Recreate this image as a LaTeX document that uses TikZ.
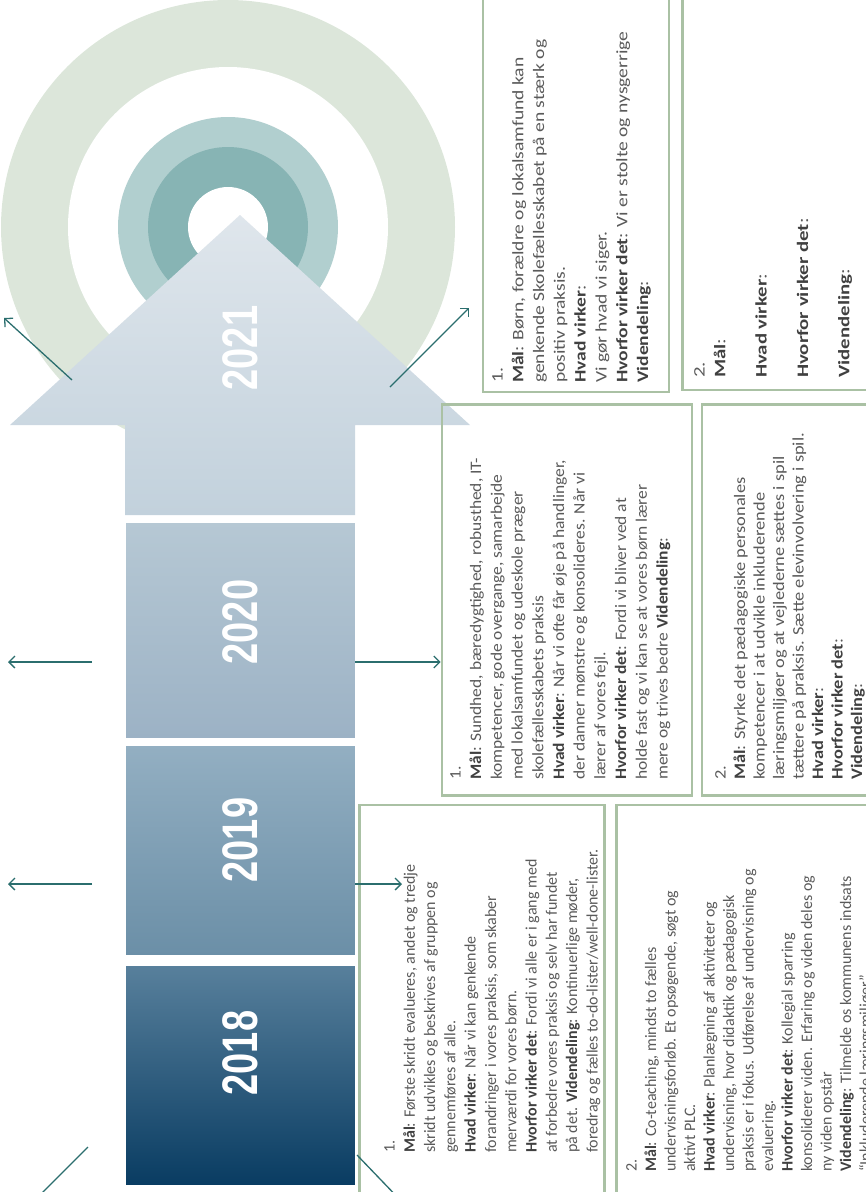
\documentclass[tikz,border=0pt]{standalone}
\usepackage{fontspec}
\setmainfont{Carlito}
\newfontfamily\yearfont{Liberation Sans}
\usetikzlibrary{positioning, arrows.meta, calc}

\definecolor{ringgreen}{HTML}{DCE6DA}
\definecolor{ringteal}{HTML}{B1CFCF}
\definecolor{ringdark}{HTML}{87B4B4}
\definecolor{linkteal}{HTML}{2B6E6E}
\definecolor{boxgreen}{HTML}{AAC1A4}
\definecolor{bodygray}{HTML}{5A5A5A}
\definecolor{labelgray}{HTML}{404040}
\definecolor{topA}{HTML}{DFE6EC}
\definecolor{botA}{HTML}{C2D1DC}
\definecolor{topB}{HTML}{B6C8D4}
\definecolor{botB}{HTML}{9CB2C5}
\definecolor{topC}{HTML}{93AFC2}
\definecolor{botC}{HTML}{6B8FA7}
\definecolor{topD}{HTML}{58809C}
\definecolor{botD}{HTML}{093C62}

\newcommand{\lbl}[1]{\textbf{\color{labelgray}#1}}

\begin{document}
\begin{tikzpicture}[
    % Global Styles
    x=1pt, y=-1pt,
    >={Straight Barb[length=6pt, width=12pt]},
    % Style for the year blocks
    year_block/.style={rectangle, draw=white, line width=0.8pt, minimum width=230pt, inner sep=0pt},
    year_label/.style={rotate=90, text=white, inner sep=0pt, font=\yearfont\bfseries\fontsize{50}{50}\selectfont},
    % Style for the goal boxes and their texts
    goal_box/.style={rectangle, draw=boxgreen, line width=2.6pt, inner sep=0pt},
    goal_text/.style={rotate=90, anchor=north west, inner sep=0pt, align=left, text=bodygray},
    % #1 = horizontal stretch, #2 = line distance
    goal_font/.style n args={2}{font=\fontsize{16}{#2}\selectfont\addfontfeatures{FakeStretch=#1}},
    % Style for the teal links
    link/.style={->, linkteal, line width=1.3pt}
]

%% --- FRAME ---
\useasboundingbox (0,0) rectangle (866,1192);
\clip (0,0) rectangle (866,1192);

%% --- TARGET (RINGS) ---
\fill[ringgreen] (228,227) circle[radius=227];
\fill[white] (228,227) circle[radius=160];
\fill[ringteal] (228,227) circle[radius=110];
\fill[ringdark] (228,227) circle[radius=80];
\fill[white] (228,227) circle[radius=40];

%% --- TIMELINE ARROW ---
% 2021 = arrow head + shaft
\shade[top color=topA, bottom color=botA]
    (240,215) -- (470,425) -- (355,425) -- (355,515) -- (125,515) -- (125,425) -- (10,425) -- cycle;
\node[year_label] (t2021) at (240,348) {\scalebox{0.76}[1]{2021}};

% Blocks
\node[year_block, minimum height=216pt, top color=topB, bottom color=botB] (y2020) at (240,630) {};
\node[year_block, minimum height=210pt, top color=topC, bottom color=botC] (y2019) at (240,850) {};
\node[year_block, minimum height=220pt, top color=topD, bottom color=botD] (y2018) at (240,1075) {};
\node[year_label] (t2020) at (240,622) {\scalebox{0.76}[1]{2020}};
\node[year_label] (t2019) at (240,840) {\scalebox{0.76}[1]{2019}};
\node[year_label] (t2018) at (240,1053) {\scalebox{0.76}[1]{2018}};

%% --- GOAL BOXES ---
\node[goal_box, minimum width=186pt, minimum height=412pt] (b21a) at (576,186) {};
\node[goal_box, minimum width=207pt, minimum height=410pt] (b21b) at (786,185) {};
\node[goal_box, minimum width=250pt, minimum height=391pt] (b20a) at (567,600) {};
\node[goal_box, minimum width=188pt, minimum height=391pt] (b20b) at (796,600) {};
\node[goal_box, minimum width=245pt, minimum height=410pt] (b18a) at (482,1010) {};
\node[goal_box, minimum width=273pt, minimum height=410pt] (b18b) at (753,1010) {};

% 2021
\node[goal_text, goal_font={1.22}{20.8}] (g21a) at (492,383) {1.\\
    \lbl{Mål}: Børn, forældre og lokalsamfund kan\\
    genkende Skolefællesskabet på en stærk og\\
    positiv praksis.\\
    \lbl{Hvad virker}:\\
    Vi gør hvad vi siger.\\
    \lbl{Hvorfor virker det}: Vi er stolte og nysgerrige\\
    \lbl{Videndeling}:};
\node[goal_text, goal_font={1.3}{20.7}] (g21b) at (694,378) {2.\\
    \lbl{Mål}:\\[20.7pt]
    \lbl{Hvad virker}:\\[20.7pt]
    \lbl{Hvorfor virker det}:\\[20.7pt]
    \lbl{Videndeling}:};

% 2020
\node[goal_text, goal_font={1.09}{20.7}] (g20a) at (450,780) {1.\\
    \lbl{Mål}: Sundhed, bæredygtighed, robusthed, IT-\\
    kompetencer, gode overgange, samarbejde\\
    med lokalsamfundet og udeskole præger\\
    skolefællesskabets praksis\\
    \lbl{Hvad virker}: Når vi ofte får øje på handlinger,\\
    der danner mønstre og konsolideres. Når vi\\
    lærer af vores fejl.\\
    \lbl{Hvorfor virker det}: Fordi vi bliver ved at\\
    holde fast og vi kan se at vores børn lærer\\
    mere og trives bedre \lbl{Videndeling}:};
\node[goal_text, goal_font={1.15}{19.5}] (g20b) at (715,780) {2.\\
    \lbl{Mål}: Styrke det pædagogiske personales\\
    kompetencer i at udvikle inkluderende\\
    læringsmiljøer og at vejlederne sættes i spil\\
    tættere på praksis. Sætte elevinvolvering i spil.\\
    \lbl{Hvad virker}:\\
    \lbl{Hvorfor virker det}:\\
    \lbl{Videndeling}:};

% 2018
\node[goal_text, goal_font={1.0}{20.3}] (g18a) at (384,1153) {1.\\
    \lbl{Mål}: Første skridt evalueres, andet og tredje\\
    skridt udvikles og beskrives af gruppen og\\
    gennemføres af alle.\\
    \lbl{Hvad virker}: Når vi kan genkende\\
    forandringer i vores praksis, som skaber\\
    merværdi for vores børn.\\
    \lbl{Hvorfor virker det}: Fordi vi alle er i gang med\\
    at forbedre vores praksis og selv har fundet\\
    på det. \lbl{Videndeling}: Kontinuerlige møder,\\
    foredrag og fælles to-do-lister/well-done-lister.};
\node[goal_text, goal_font={1.0}{19.5}] (g18b) at (626,1172) {2.\\
    \lbl{Mål}: Co-teaching, mindst to fælles\\
    undervisningsforløb. Et opsøgende, søgt og\\
    aktivt PLC.\\
    \lbl{Hvad virker}: Planlægning af aktiviteter og\\
    undervisning, hvor didaktik og pædagogisk\\
    praksis er i fokus. Udførelse af undervisning og\\
    evaluering.\\
    \lbl{Hvorfor virker det}: Kollegial sparring\\
    konsoliderer viden. Erfaring og viden deles og\\
    ny viden opstår\\
    \lbl{Videndeling}: Tilmelde os kommunens indsats\\
    “Inkluderende læringsmiljøer”};

%% --- LINKS ---
% free ends
\coordinate (l21a) at (72,380);  \coordinate (e21a) at (4,318);
\coordinate (l21b) at (390,387); \coordinate (e21b) at (469,308);
\coordinate (l20) at (92,662);   \coordinate (e20) at (8,662);
\coordinate (l19) at (92,884);   \coordinate (e19) at (8,884);
\coordinate (r19) at (402,884);
\coordinate (l18a) at (88,1147); \coordinate (e18a) at (30,1205);
\coordinate (l18b) at (357,1155); \coordinate (e18b) at (405,1205);

\draw[link] (l21a) -- (e21a);
\draw[link] (l21b) -- (e21b);
\draw[link] (l20) -- (e20);
\draw[link] (y2020.east |- l20) -- (b20a.west |- l20);
\draw[link] (l19) -- (e19);
\draw[link] (y2019.east |- l19) -- (r19);
\draw[link] (l18a) -- (e18a);
\draw[link] (l18b) -- (e18b);

\end{tikzpicture}
\end{document}
